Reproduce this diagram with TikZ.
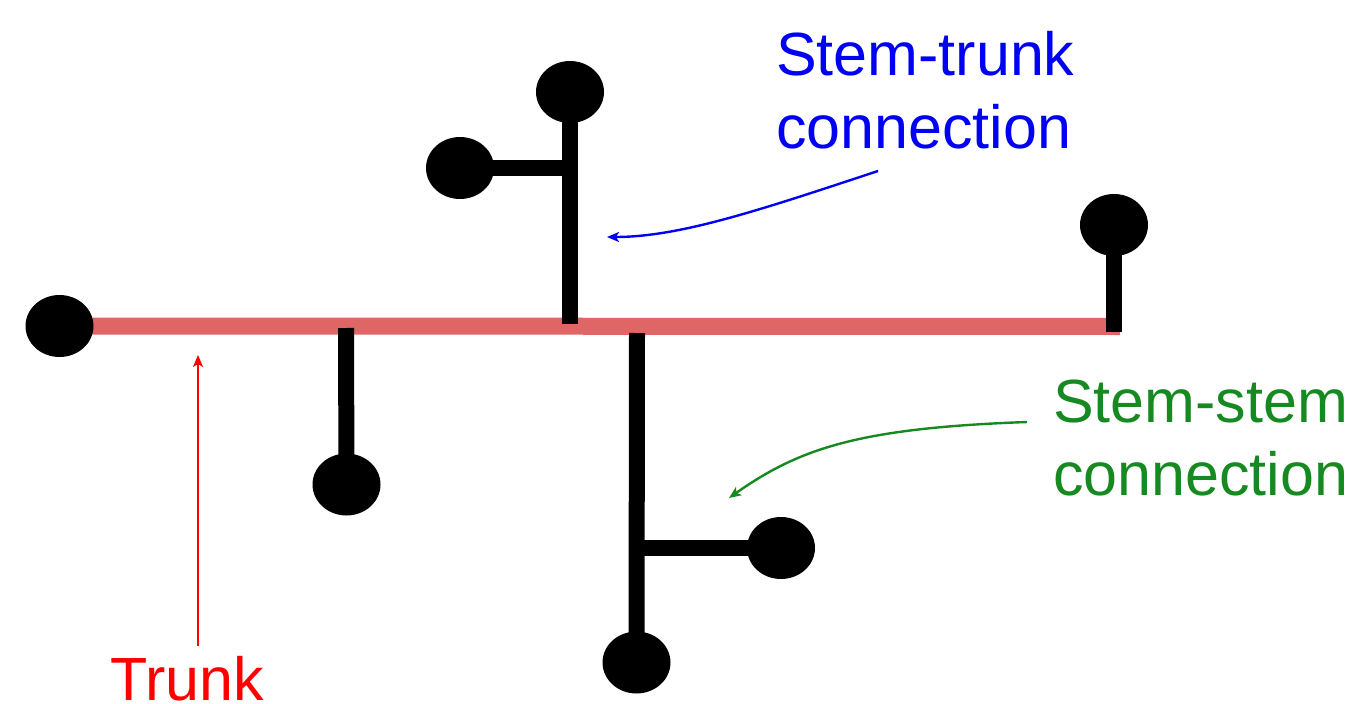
\documentclass[tikz,border=0pt]{standalone}
\usepackage{fontspec}
\setmainfont{Liberation Sans}
\usetikzlibrary{shapes.geometric,arrows.meta,backgrounds}
\definecolor{trunkred}{RGB}{224,102,102}
\definecolor{labelblue}{RGB}{0,0,245}
\definecolor{labelgreen}{RGB}{22,138,32}
\definecolor{labelred}{RGB}{255,0,0}
\tikzset{
  bulb/.style={ellipse,fill=black,draw=none,inner sep=0pt,minimum width=68pt,minimum height=62pt},
  trunkline/.style={line width=17pt,trunkred},
  stemline/.style={line width=16pt,black},
  label/.style={inner sep=0pt,align=left,font=\fontsize{61}{73}\selectfont},
  pointer/.style={line width=2.4pt,-{Stealth[length=12pt,width=10pt,inset=3pt]}},
}
\begin{document}
\begin{tikzpicture}[x=1pt,y=-1pt]
\useasboundingbox (0,0) rectangle (1353,704);

% end bulbs
\node[bulb] (root)  at (59.5,326)   {};
\node[bulb] (top)   at (570,92)     {};
\node[bulb] (side)  at (460,168)    {};
\node[bulb] (right) at (1114,225)   {};
\node[bulb] (low)   at (346.5,484.5){};
\node[bulb] (bot)   at (636.5,662.5){};
\node[bulb] (twig)  at (781,548)    {};

% junction points
\coordinate (trunkend) at (1120,326.5);
\coordinate (jlow)   at (346,328);
\coordinate (jtop)   at (570,324);
\coordinate (jside)  at (570,168);
\coordinate (jright) at (1114,332);
\coordinate (jbot)   at (637,333);
\coordinate (jtwig)  at (637,548);

\begin{scope}[on background layer]
  \draw[trunkline] (root.center) -- (trunkend);
  \draw[stemline] (top.center) -- (jtop);
  \draw[stemline] (jside) -- (side.center);
  \draw[stemline] (right.center) -- (jright);
  \draw[stemline] (jlow) -- (low.center);
  \draw[stemline] (jbot) -- (bot.center);
  \draw[stemline] (jtwig) -- (twig.center);
\end{scope}

% labels (anchored at the baseline of their last line)
\node[label,labelblue,anchor=base west] (stlabel) at (776,148) {Stem-trunk\\connection};
\node[label,labelgreen,anchor=base west] (sslabel) at (1053,495) {Stem-stem\\connection};
\node[label,labelred,anchor=base west] (trlabel) at (110,700) {Trunk};

% pointers
\coordinate (stfrom) at (878,171);
\coordinate (stto)   at (607,237);
\draw[pointer,labelblue] (stfrom) .. controls (760,210) and (680,237) .. (stto);
\coordinate (ssfrom) at (1027,422);
\coordinate (ssto)   at (729,498);
\draw[pointer,labelgreen] (ssfrom) .. controls (860,428) and (800,448) .. (ssto);
\coordinate (trfrom) at (198,646);
\coordinate (trto)   at (198,355);
\draw[pointer,labelred,line width=1.6pt] (trfrom) -- (trto);
\end{tikzpicture}
\end{document}
